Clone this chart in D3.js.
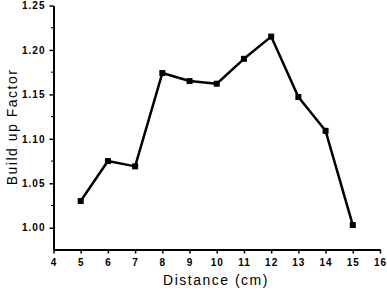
<!DOCTYPE html>
<html><head><meta charset="utf-8">
<script src="https://cdn.jsdelivr.net/npm/d3@7"></script>
<style>body{margin:0;background:#fff}svg{display:block}</style>
</head><body>
<script>
const distances = [5, 6, 7, 8, 9, 10, 11, 12, 13, 14, 15];
const buildUp = [1.030, 1.075, 1.069, 1.174, 1.165, 1.162, 1.190, 1.215, 1.147, 1.109, 1.003];
const xTicks = [4,5,6,7,8,9,10,11,12,13,14,15,16];
const yTicks = [1.00,1.05,1.10,1.15,1.20,1.25];
const yMinor = [1.025,1.075,1.125,1.175,1.225];

const W = 387, H = 292;
const svg = d3.select("body").append("svg").attr("width", W).attr("height", H);
const x = d3.scaleLinear().domain([4, 16]).range([53.5, 380]);
const y = d3.scaleLinear().domain([0.9755, 1.25]).range([249.5, 5.5]);

const font = "Arial, 'Liberation Sans', sans-serif";

// x axis
const gx = svg.append("g").attr("transform", `translate(0,${y.range()[0]})`)
  .call(d3.axisBottom(x).tickValues(xTicks).tickSize(4).tickSizeOuter(0).tickPadding(5).tickFormat(d3.format("d")));
gx.select(".domain").attr("stroke-width", 2);
gx.selectAll(".tick line").attr("stroke-width", 1.5);
gx.selectAll("text").attr("font-family", font).attr("font-size", 10).attr("font-weight", "bold")
  .attr("letter-spacing", 1).attr("fill", "#000");

// y axis
const gy = svg.append("g").attr("transform", `translate(${x.range()[0]},0)`)
  .call(d3.axisLeft(y).tickValues(yTicks).tickSize(4).tickSizeOuter(0).tickPadding(4).tickFormat(d3.format(".2f")));
gy.select(".domain").attr("stroke-width", 2);
gy.selectAll(".tick line").attr("stroke-width", 1.5);
gy.selectAll("text").attr("font-family", font).attr("font-size", 10).attr("font-weight", "bold")
  .attr("letter-spacing", 1).attr("fill", "#000");
gy.selectAll(".minor").data(yMinor).enter().append("line")
  .attr("x1", -2.5).attr("x2", 0).attr("y1", d => y(d)).attr("y2", d => y(d))
  .attr("stroke", "#000").attr("stroke-width", 1);

// line
const line = d3.line().x((d, i) => x(distances[i])).y(d => y(d));
svg.append("path").datum(buildUp).attr("d", line)
  .attr("fill", "none").attr("stroke", "#000").attr("stroke-width", 2.5).attr("stroke-linejoin", "round");
svg.selectAll(".pt").data(buildUp).enter().append("rect")
  .attr("x", (d, i) => x(distances[i]) - 3).attr("y", d => y(d) - 3)
  .attr("width", 6).attr("height", 6).attr("fill", "#000");

// titles
svg.append("text").attr("x", 216).attr("y", 285).attr("text-anchor", "middle")
  .attr("font-family", font).attr("font-size", 14).attr("letter-spacing", 1.5).text("Distance (cm)");
svg.append("text").attr("transform", "translate(17,127) rotate(-90)").attr("text-anchor", "middle")
  .attr("font-family", font).attr("font-size", 14).attr("letter-spacing", 1.5).text("Build up Factor");
</script>
</body></html>
